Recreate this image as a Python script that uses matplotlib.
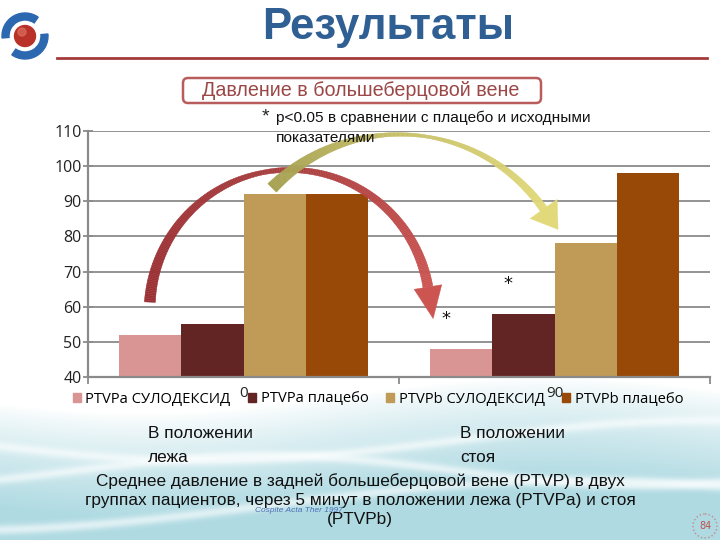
import numpy as np
import matplotlib.pyplot as plt
from matplotlib.patches import Circle, Wedge, FancyBboxPatch, Polygon, Patch
from matplotlib.collections import PolyCollection
from matplotlib.colors import to_rgb

# data
groups = ['0', '90']
series = ['PTVPa СУЛОДЕКСИД', 'PTVPa плацебо', 'PTVPb СУЛОДЕКСИД', 'PTVPb плацебо']
values = [[52, 48], [55, 58], [92, 78], [92, 98]]
colors = ['#D99594', '#632523', '#C09A57', '#984807']
starred = [(0, 1), (1, 1)]   # (series, group) with p<0.05
yticks = [40, 50, 60, 70, 80, 90, 100, 110]

fig = plt.figure(figsize=(7.2, 5.4), dpi=100)

# decoration layer in pixel coordinates (y down)
deco = fig.add_axes([0, 0, 1, 1])
deco.set_xlim(0, 720)
deco.set_ylim(540, 0)
deco.axis('off')

# light blue wavy background at the bottom
yy, xx = np.mgrid[0:540, 0:720]
edge = 395 + 18 * np.sin(xx / 130.0 + 0.5)
t = np.clip((yy - edge) / 105.0, 0, 1) ** 0.8
cyan = np.array(to_rgb('#AFDAE2'))
bg = 1 - t[..., None] * (1 - cyan)
for y0, amp, per, ph in [(440, 20, 160, 0.3), (505, 25, 200, 1.8), (470, 15, 120, 2.5)]:
    band = np.exp(-((yy - (y0 + amp * np.sin(xx / per + ph))) / 5.0) ** 2)
    bg = bg + band[..., None] * (1 - bg) * 0.6
deco.imshow(bg, extent=(0, 720, 540, 0), aspect='auto', zorder=0)

# logo
deco.add_patch(Wedge((25, 36), 23, 175, 305, width=7, color='#2B68B0', zorder=2))
deco.add_patch(Wedge((25, 36), 23, -5, 125, width=7, color='#2B68B0', zorder=2))
deco.add_patch(Circle((25, 36), 10.5, color='#B8322A', zorder=3))
deco.add_patch(Circle((22, 32), 4, color='#E07565', alpha=0.6, zorder=4))

# title and rule
fig.text(388 / 720, 1 - 28 / 540, 'Результаты', ha='center', va='center',
         family='Liberation Sans', weight='bold', size=31.5, color='#2F5F93')
deco.plot([57, 707], [58, 58], color='#A33B3B', lw=2, zorder=2)

# caption box
deco.add_patch(FancyBboxPatch((183, 78), 358, 25, boxstyle='round,pad=0,rounding_size=5',
                              ec='#B85C5C', fc='white', lw=1.8, zorder=2))
fig.text(361 / 720, 1 - 91 / 540, 'Давление в большеберцовой вене', ha='center', va='center',
         family='Liberation Sans', size=14.2, color='#9B4747')

# footnote
fig.text(265 / 720, 1 - 117 / 540, '*', ha='center', va='center',
         family='Liberation Sans', size=14, color='#222222')
fig.text(276 / 720, 1 - 111 / 540, 'p<0.05 в сравнении с плацебо и исходными\nпоказателями',
         ha='left', va='top', family='Liberation Sans', size=11.1, color='#111111',
         linespacing=1.5)

# chart
ax = fig.add_axes([88 / 720, 163 / 540, 622 / 720, 246 / 540])
ax.patch.set_alpha(0)
x = np.arange(len(groups))
w = 0.2
for i, (name, vals) in enumerate(zip(series, values)):
    ax.bar(x + (i - 1.5) * w, vals, w, color=colors[i], label=name, zorder=2)

for si, gi in starred:
    ax.text(x[gi] + (si - 1.5) * w - 0.05, values[si][gi] + 8.5, '*', ha='center', va='center',
            size=13, color='#111111', family='DejaVu Sans')

ax.set_xlim(-0.5, 1.5)
ax.set_ylim(40, 110)
ax.set_yticks(yticks)
ax.yaxis.grid(True, color='#8a8a8a', lw=1.3, zorder=0)
ax.set_axisbelow(True)
for s in ['top', 'right']:
    ax.spines[s].set_visible(False)
for s in ['left', 'bottom']:
    ax.spines[s].set_color('#8a8a8a')
    ax.spines[s].set_linewidth(1.6)
ax.set_xticks([-0.5, 0.5, 1.5])
ax.set_xticklabels([])
ax.set_xticks(x, minor=True)
ax.set_xticklabels(groups, minor=True)
ax.tick_params(axis='x', which='major', direction='out', length=5, color='#8a8a8a', width=1.3)
ax.tick_params(axis='x', which='minor', length=0, pad=6.5, labelsize=11, labelcolor='#222222')
ax.tick_params(axis='y', direction='inout', length=7, color='#8a8a8a', width=1.3,
               labelsize=11.5, labelcolor='#222222', pad=1)
for lab in ax.get_xticklabels(minor=True) + ax.get_yticklabels():
    lab.set_family('Open Sans')


def ribbon_arrow(p0, p1, p2, s_prof, w_prof, c_prof, head_len, head_w, head_col, z):
    # circular arc through three data points, built in display pixels
    T = ax.transData
    (ax_, ay), (bx, by), (cx, cy) = T.transform([p0, p1, p2])
    d = 2 * (ax_ * (by - cy) + bx * (cy - ay) + cx * (ay - by))
    ux = ((ax_**2 + ay**2) * (by - cy) + (bx**2 + by**2) * (cy - ay) + (cx**2 + cy**2) * (ay - by)) / d
    uy = ((ax_**2 + ay**2) * (cx - bx) + (bx**2 + by**2) * (ax_ - cx) + (cx**2 + cy**2) * (bx - ax_)) / d
    r = np.hypot(ax_ - ux, ay - uy)
    th0 = np.arctan2(ay - uy, ax_ - ux)
    th2 = np.arctan2(cy - uy, cx - ux)
    if th2 > th0:
        th2 -= 2 * np.pi
    th = np.linspace(th0, th2, 240)
    s = np.linspace(0, 1, th.size)
    wid = np.interp(s, s_prof, w_prof)
    nrm = np.column_stack([np.cos(th), np.sin(th)])
    pts = np.column_stack([ux, uy]) + r * nrm
    L = pts + nrm * wid[:, None] / 2
    R = pts - nrm * wid[:, None] / 2
    inv = T.inverted()
    L, R = inv.transform(L), inv.transform(R)
    quads = [[L[i], L[i + 1], R[i + 1], R[i]] for i in range(len(th) - 1)]
    cp = np.array([to_rgb(c) for c in c_prof])
    sp = np.linspace(0, 1, len(c_prof))
    cols = np.column_stack([np.interp(s[:-1], sp, cp[:, k]) for k in range(3)])
    pc = PolyCollection(quads, facecolors=cols, edgecolors=cols, linewidths=0.3,
                        clip_on=False, zorder=z)
    ax.add_collection(pc)
    e = pts[-1]
    tang = np.array([np.sin(th[-1]), -np.cos(th[-1])])
    n = nrm[-1]
    tri = [e + n * head_w / 2, e + tang * head_len, e - n * head_w / 2]
    ax.add_patch(Polygon(inv.transform(tri), closed=True, fc=head_col, ec=head_col, lw=0.3,
                         clip_on=False, zorder=z))


ribbon_arrow((-0.301, 61.3), (0.069, 98.3), (0.593, 65.6), [0, 0.45, 1], [11, 4.5, 10],
             ['#9A2F33', '#A83E3E', '#CC5552'], 32, 28, '#CC5552', 6)
ribbon_arrow((0.092, 93.8), (0.46, 108.9), (0.965, 87.8), [0, 0.4, 0.55, 1], [12, 4, 3, 8],
             ['#A5A050', '#C9C26A', '#E3DA7A'], 25, 33, '#E2D97A', 7)

handles = [Patch(color=c) for c in colors]
fig.legend(handles, series, loc='center', bbox_to_anchor=(378 / 720, 1 - 399 / 540), ncol=4,
           frameon=False, handlelength=0.55, handleheight=0.55, handletextpad=0.3,
           columnspacing=1.2, prop={'family': 'Open Sans', 'size': 10.6})

# texts below the chart
fig.text(148 / 720, 1 - 445 / 540, 'В положении\nлежа', ha='left', va='center',
         family='Liberation Sans', size=12.4, linespacing=1.75, color='#111111')
fig.text(460 / 720, 1 - 445 / 540, 'В положении\nстоя', ha='left', va='center',
         family='Liberation Sans', size=12.4, linespacing=1.75, color='#111111')
fig.text(360 / 720, 1 - 500 / 540,
         'Среднее давление в задней большеберцовой вене (PTVP) в двух\n'
         'группах пациентов, через 5 минут в положении лежа (PTVPa) и стоя\n(PTVPb)',
         ha='center', va='center', family='Liberation Sans', size=12.4, linespacing=1.35,
         color='#111111')
fig.text(255 / 720, 1 - 510 / 540, 'Cospite Acta Ther 1997', ha='left', va='center',
         family='Liberation Sans', style='italic', size=6, color='#4A6FB5')

deco.add_patch(Circle((705, 526), 12, fill=False, ec='#C08A8A', ls=':', lw=1, zorder=2))
deco.text(705, 526, '84', ha='center', va='center', size=7, color='#C0504D')

fig.savefig('out.png', dpi=100)
